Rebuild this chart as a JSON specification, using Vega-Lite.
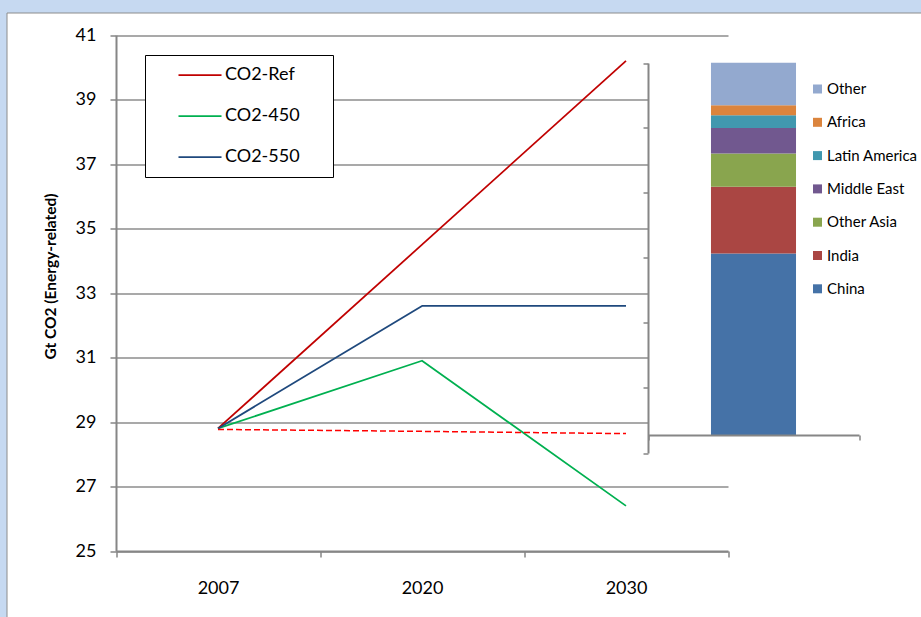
{
  "$schema": "https://vega.github.io/schema/vega-lite/v6.json",
  "autosize": "none",
  "width": 914.5,
  "height": 604.5,
  "padding": {"left": 6.5, "top": 12.5, "right": 0, "bottom": 0},
  "background": "#c6d9f1",
  "view": {"fill": "white", "stroke": "#8c8c8c", "strokeWidth": 1},
  "config": {
    "font": "Lato",
    "axis": {"labelColor": "black", "titleColor": "black", "labelFont": "Lato", "titleFont": "Lato"},
    "legend": {"labelColor": "black", "labelFont": "Lato"}
  },
  "datasets": {
    "emissions": [
      {"year": "2007", "scenario": "CO2-Ref", "gt": 28.8},
      {"year": "2020", "scenario": "CO2-Ref", "gt": 34.5},
      {"year": "2030", "scenario": "CO2-Ref", "gt": 40.2},
      {"year": "2007", "scenario": "CO2-450", "gt": 28.8},
      {"year": "2020", "scenario": "CO2-450", "gt": 30.9},
      {"year": "2030", "scenario": "CO2-450", "gt": 26.4},
      {"year": "2007", "scenario": "CO2-550", "gt": 28.8},
      {"year": "2020", "scenario": "CO2-550", "gt": 32.6},
      {"year": "2030", "scenario": "CO2-550", "gt": 32.6},
      {"year": "2007", "scenario": "CO2-2007 level", "gt": 28.77},
      {"year": "2020", "scenario": "CO2-2007 level", "gt": 28.71},
      {"year": "2030", "scenario": "CO2-2007 level", "gt": 28.64}
    ],
    "increase": [
      {"period": "2007-2030", "region": "China", "rank": 1, "gt": 5.56},
      {"period": "2007-2030", "region": "India", "rank": 2, "gt": 2.04},
      {"period": "2007-2030", "region": "Other Asia", "rank": 3, "gt": 1.02},
      {"period": "2007-2030", "region": "Middle East", "rank": 4, "gt": 0.78},
      {"period": "2007-2030", "region": "Latin America", "rank": 5, "gt": 0.39},
      {"period": "2007-2030", "region": "Africa", "rank": 6, "gt": 0.31},
      {"period": "2007-2030", "region": "Other", "rank": 7, "gt": 1.3}
    ]
  },
  "layer": [
    {
      "data": {"name": "emissions"},
      "encoding": {
        "x": {
          "field": "year", "type": "ordinal", "bandPosition": 0.5,
          "scale": {"type": "band", "paddingInner": 0, "paddingOuter": 0, "range": [109.5, 721.5]},
          "axis": {
            "orient": "bottom", "offset": -66, "title": null, "labelAngle": 0,
            "tickBand": "extent", "tickSize": 6, "tickColor": "#868686", "tickWidth": 1.5,
            "domainColor": "#868686", "domainWidth": 2,
            "labelFontSize": 18, "labelPadding": 22, "grid": false, "zindex": 0
          }
        },
        "y": {
          "field": "gt", "type": "quantitative",
          "scale": {"domain": [25, 41], "range": [538.5, 22.5], "nice": false, "zero": false},
          "axis": {
            "orient": "left", "offset": -109.5,
            "values": [25, 27, 29, 31, 33, 35, 37, 39, 41],
            "title": "Gt CO2 (Energy-related)", "titleFontSize": 15.5, "titleFontWeight": "bold",
            "titleAngle": -90, "titleX": -66, "titleY": 263.5, "titleAlign": "center", "titleBaseline": "middle",
            "grid": true, "gridColor": "#8c8c8c", "gridWidth": 1.3,
            "tickSize": 6, "tickColor": "#868686", "tickWidth": 1.5,
            "domainColor": "#868686", "domainWidth": 2,
            "labelFontSize": 18, "labelPadding": 14, "zindex": 0
          }
        }
      },
      "layer": [
        {
          "transform": [{"filter": "datum.scenario != 'CO2-2007 level'"}],
          "mark": {"type": "line", "strokeWidth": 1.75, "strokeJoin": "round"},
          "encoding": {
            "stroke": {
              "field": "scenario", "type": "nominal",
              "scale": {"domain": ["CO2-Ref", "CO2-450", "CO2-550"], "range": ["#c00000", "#00b050", "#1f497d"]},
              "legend": {
                "orient": "none", "legendX": 138.5, "legendY": 42.5, "title": null,
                "symbolType": "M-4,0H4M21.9,0", "symbolSize": 115.6, "symbolStrokeWidth": 1.75,
                "symbolOffset": 35, "labelOffset": 16, "labelFontSize": 18,
                "rowPadding": 23, "padding": 11,
                "strokeColor": "black", "fillColor": "white"
              }
            }
          }
        },
        {
          "transform": [{"filter": "datum.scenario == 'CO2-2007 level'"}],
          "mark": {"type": "line", "stroke": "#ff0000", "strokeWidth": 1.5, "strokeDash": [6, 3]},
          "encoding": {}
        }
      ]
    },
    {
      "data": {"name": "increase"},
      "encoding": {
        "x": {
          "field": "period", "type": "nominal",
          "scale": {"type": "band", "paddingInner": 0, "paddingOuter": 0, "range": [641.5, 852.5]},
          "axis": {
            "orient": "bottom", "offset": -182, "title": null, "labels": false,
            "tickBand": "extent", "tickSize": 5, "tickColor": "#868686", "tickWidth": 1.5,
            "domainColor": "#868686", "domainWidth": 2, "grid": false, "zindex": 1
          }
        }
      },
      "layer": [
        {
          "transform": [{"aggregate": [{"op": "sum", "field": "gt", "as": "total"}], "groupby": ["period"]}],
          "mark": {"type": "rect", "fill": "white"},
          "encoding": {
            "y": {
              "datum": -0.551, "type": "quantitative",
              "scale": {"domain": [-0.551, 11.39], "range": [440.5, 50.5], "nice": false, "zero": false},
              "axis": {
                "orient": "left", "offset": -641.5, "title": null, "labels": false,
                "values": [-0.551, 1.44, 3.43, 5.42, 7.41, 9.4, 11.39],
                "tickSize": 5, "tickColor": "#868686", "tickWidth": 1.5,
                "domainColor": "#868686", "domainWidth": 2, "grid": false, "zindex": 1
              }
            },
            "y2": {"datum": 11.39}
          }
        },
        {
          "mark": {"type": "bar", "width": {"band": 0.403}},
          "encoding": {
            "y": {"field": "gt", "type": "quantitative", "stack": "zero"},
            "order": {"field": "rank", "type": "quantitative"},
            "fill": {
              "field": "region", "type": "nominal",
              "scale": {
                "domain": ["Other", "Africa", "Latin America", "Middle East", "Other Asia", "India", "China"],
                "range": ["#93a9cf", "#db843d", "#4198af", "#71588f", "#89a54e", "#aa4643", "#4572a7"]
              },
              "legend": {
                "orient": "none", "legendX": 803.5, "legendY": 69, "title": null,
                "symbolType": "square", "symbolSize": 81, "symbolStrokeWidth": 0,
                "labelOffset": 2, "labelFontSize": 15, "rowPadding": 17.3, "padding": 0
              }
            }
          }
        }
      ]
    }
  ],
  "resolve": {
    "scale": {"x": "independent", "y": "independent"},
    "axis": {"x": "independent", "y": "independent"}
  }
}
